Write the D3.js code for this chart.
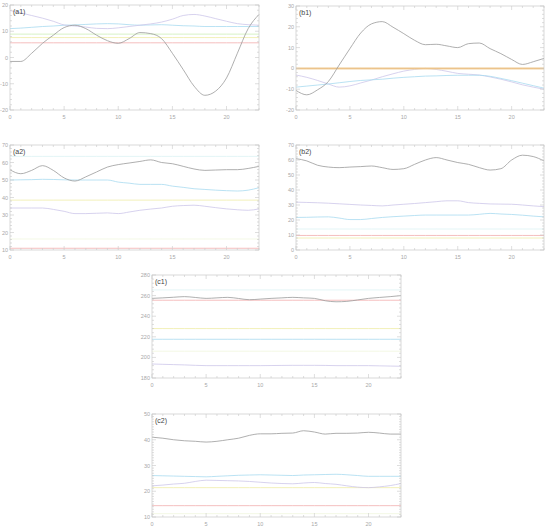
<!DOCTYPE html>
<html><head><meta charset="utf-8">
<script src="https://cdn.jsdelivr.net/npm/d3@7"></script>
<style>body{margin:0;background:#fff}svg{display:block}</style>
</head><body>
<script>
const hours = [0,1,2,3,4,5,6,7,8,9,10,11,12,13,14,15,16,17,18,19,20,21,22,23];
const xTicks = [0,5,10,15,20];

// (a1)
const a1Gray = [-1.5,-1.5,1.6,5.4,8.5,11.4,12.3,11,8.5,6.4,5.4,7.2,9.5,9.1,7.2,1.6,-4.6,-10.9,-14.4,-12.8,-7.8,1.6,11,16.4];
const a1Lav  = [17.9,17,16,15,13.8,12.4,12,11.6,11.1,11,11.3,11.8,12.3,12.8,13.5,14.6,16,16.4,15.8,14.8,13.8,12.9,12.5,12.3];
const a1Blue = [11,11.2,11.5,11.8,12,12.3,12.4,12.6,12.8,12.9,12.8,12.5,12.3,12.4,12.5,12.3,12.1,12,11.8,11.8,11.8,11.8,11.8,11.8];
const a1Green = 8.9, a1Yellow = 7.6, a1Red = 5.6;
const a1Ticks = [-20,-10,0,10,20];

// (b1)
const b1Gray = [-10.6,-12.7,-10.3,-6.3,1.6,9.5,17,21.4,22.5,19.8,16.7,13.5,11.4,11.6,10.8,10,11.9,12.2,9.5,7.1,4.3,1.9,3.2,4.8];
const b1Lav  = [-3.2,-4.3,-5.8,-7.5,-9,-8.4,-7,-5.6,-4,-2.6,-1.3,-0.5,0,-0.5,-1.4,-2.4,-2.8,-3.2,-4.1,-5.2,-6.5,-7.9,-9,-10];
const b1Blue = [-9,-8.5,-8,-7.5,-6.9,-6.3,-5.8,-5.5,-5.2,-4.7,-4.3,-4,-3.7,-3.6,-3.4,-3.3,-3.3,-3.3,-3.8,-4.8,-5.9,-7.1,-8.3,-9.5];
const b1Zero = 0;
const b1Ticks = [-20,-10,0,10,20,30];

// (a2)
const a2Gray = [55.8,53.6,55.5,58.2,55.5,51.2,49.4,51.8,54.6,57.4,58.8,59.7,60.6,61.5,60,59.3,57.8,56.3,55.5,55.7,55.9,55.9,56.6,57.8];
const a2Blue = [50,50.1,50.2,50.4,50.3,50.1,50,50,50,50,48.8,48.2,47.5,47.5,47.5,46.5,45.8,45,44.6,44.2,43.9,43.7,44.2,45.6];
const a2Lav  = [34,34,34,34,33.2,32.1,30.8,30.8,31,31.2,30.8,31.7,32.7,33.4,34,35,35.4,35.6,35,34.2,33.5,33,32.7,33.5];
const a2Cyan = 63.5, a2Yellow = 38.5, a2Orange = 16.3, a2Red = 11;
const a2Ticks = [10,20,30,40,50,60,70];

// (b2)
const b2Gray = [60.9,59.4,56.5,55.3,54.9,55.3,55.6,56,54.9,53.7,54.2,57.1,60,61.6,60,58.3,57.1,54.9,53.3,54.2,60,63.2,62.3,59.4];
const b2Lav  = [31.9,31.7,31.5,31.2,30.8,30.4,30,29.7,29.4,30,30.5,31,31.6,32.2,32.8,32.8,31.6,31.1,30.7,30.6,30.5,30,29.4,28.9];
const b2Blue = [21.7,21.8,22,22.1,21.3,20.3,20.3,21,21.7,22.2,22.6,23,23.3,23.3,23.3,23.3,23.3,23.8,24.4,24,23.7,23.2,22.6,22.1];
const b2Cyan = 14, b2Red = 9.7, b2Yellow = 8;
const b2Ticks = [0,10,20,30,40,50,60,70];

// (c1)
const c1Gray = [257.3,257.8,258.4,259,258.2,257.3,257.8,258.3,257.2,256,256.6,257.3,257.8,258.3,257.8,257.3,255,254,254.4,255.8,257.3,258.2,259,260];
const c1Lav  = [193.6,193.3,193,192.7,192.3,192,192,192,192,192,192,192.1,192.2,192.3,192.3,192.3,192.2,192,192,192,192,191.8,191.6,191.4];
const c1Cyan = 265.5, c1Red = 255.5, c1Yellow = 228, c1Blue = 217.6, c1Light = 206;
const c1Ticks = [180,200,220,240,260,280];

// (c2)
const c2Gray = [41,40.6,40,39.6,39.4,39.1,39.4,40,40.6,41.7,42.3,42.3,42.5,42.6,43.5,43,42.2,42.5,42.5,42.6,42.9,42.6,42.2,42.2];
const c2Blue = [26.1,26,25.9,25.8,25.7,25.6,25.8,26,26.2,26.3,26.4,26.3,26.2,26.1,26.3,26.4,26.5,26.6,26.4,26.1,25.8,25.8,25.8,25.8];
const c2Lav  = [22.1,22.4,22.8,23.1,23.8,24.3,24.2,24.1,24,23.8,23.5,23.2,23,22.9,23.2,23.4,23,22.7,22.1,21.6,21.4,21.7,22.2,23];
const c2Yellow = 21.4, c2Red = 14.4, c2Faint = 11.3;
const c2Ticks = [10,20,30,40,50];

const C = {gray:"#9a9a9a", lav:"#cdc6ea", blue:"#a8daf0", green:"#cdefb6", yellow:"#efeca8", red:"#f3afaf", orange:"#f3d2b0", cyan:"#dcf2f4", faint:"#f0f6de"};

const panels = [
  {label:"(a1)", x0:10, x1:259, y0:5, y1:110, dom:[-20,20], ticks:a1Ticks, minor:2,
   series:[[a1Red,C.red],[a1Yellow,C.yellow],[a1Green,C.green],[a1Blue,C.blue],[a1Lav,C.lav],[a1Gray,C.gray]]},
  {label:"(b1)", x0:296, x1:544, y0:6, y1:110, dom:[-20,30], ticks:b1Ticks, minor:2,
   series:[[b1Lav,C.lav],[b1Blue,C.blue],[b1Zero,"#f2d2a0",2],[b1Zero,"#eabc84",0.8],[b1Gray,C.gray]]},
  {label:"(a2)", x0:10, x1:259, y0:145, y1:250, dom:[10,70], ticks:a2Ticks, minor:2,
   series:[[a2Cyan,C.cyan],[a2Yellow,C.yellow],[a2Orange,C.faint],[a2Red,C.red],[a2Lav,C.lav],[a2Blue,C.blue],[a2Gray,C.gray]]},
  {label:"(b2)", x0:296, x1:544, y0:145, y1:250, dom:[0,70], ticks:b2Ticks, minor:2,
   series:[[b2Cyan,C.cyan],[b2Yellow,C.yellow],[b2Red,C.red],[b2Lav,C.lav],[b2Blue,C.blue],[b2Gray,C.gray]]},
  {label:"(c1)", x0:152, x1:401, y0:275, y1:378, dom:[180,280], ticks:c1Ticks, minor:4,
   series:[[c1Cyan,C.cyan],[c1Yellow,C.yellow],[c1Light,C.faint],[c1Blue,C.blue],[c1Lav,C.lav],[c1Red,C.red],[c1Gray,C.gray]]},
  {label:"(c2)", x0:152, x1:401, y0:414, y1:517, dom:[10,50], ticks:c2Ticks, minor:1,
   series:[[c2Faint,C.faint],[c2Red,C.red],[c2Yellow,C.yellow],[c2Lav,C.lav],[c2Blue,C.blue],[c2Gray,C.gray]]}
];

const svg = d3.select("body").append("svg").attr("width",550).attr("height",532)
  .style("font-family","'Liberation Sans', Arial, sans-serif");

panels.forEach(p => {
  const x = d3.scaleLinear().domain([0,23]).range([p.x0,p.x1]);
  const y = d3.scaleLinear().domain(p.dom).range([p.y1,p.y0]);
  const g = svg.append("g");
  const line = d3.line().x((d,i)=>x(hours[i])).y(d=>y(d)).curve(d3.curveMonotoneX);
  p.series.forEach(([v,col,w]) => {
    const vals = Array.isArray(v) ? v : hours.map(()=>v);
    g.append("path").attr("d", line(vals)).attr("fill","none")
      .attr("stroke",col).attr("stroke-width", w||0.8);
  });
  g.append("rect").attr("x",p.x0).attr("y",p.y0).attr("width",p.x1-p.x0).attr("height",p.y1-p.y0)
    .attr("fill","none").attr("stroke","#c8c8c8").attr("stroke-width",0.7);
  const tk = g.append("g").attr("stroke","#c8c8c8").attr("stroke-width",0.6);
  hours.forEach(h => {
    const L = (h%5===0)?4:2;
    tk.append("line").attr("x1",x(h)).attr("x2",x(h)).attr("y1",p.y1).attr("y2",p.y1-L);
    tk.append("line").attr("x1",x(h)).attr("x2",x(h)).attr("y1",p.y0).attr("y2",p.y0+L);
  });
  const step = p.ticks[1]-p.ticks[0];
  const mstep = p.minor;
  for (let v = p.dom[0]; v <= p.dom[1]+1e-9; v += mstep) {
    const major = Math.abs((v - p.ticks[0]) % step) < 1e-6;
    const L = major?4:2;
    tk.append("line").attr("x1",p.x0).attr("x2",p.x0+L).attr("y1",y(v)).attr("y2",y(v));
    tk.append("line").attr("x1",p.x1).attr("x2",p.x1-L).attr("y1",y(v)).attr("y2",y(v));
  }
  g.selectAll(".xl").data(xTicks).enter().append("text")
    .attr("x",d=>x(d)).attr("y",p.y1+9).attr("text-anchor","middle")
    .attr("font-size",5.5).attr("fill","#a8a8a8").text(d=>d);
  g.selectAll(".yl").data(p.ticks).enter().append("text")
    .attr("x",p.x0-2).attr("y",d=>y(d)+2).attr("text-anchor","end")
    .attr("font-size",5.5).attr("fill","#a8a8a8").text(d=>d);
  g.append("text").attr("x",p.x0+3).attr("y",p.y0+9).attr("font-size",7).attr("fill","#444").text(p.label);
});
</script>
</body></html>
